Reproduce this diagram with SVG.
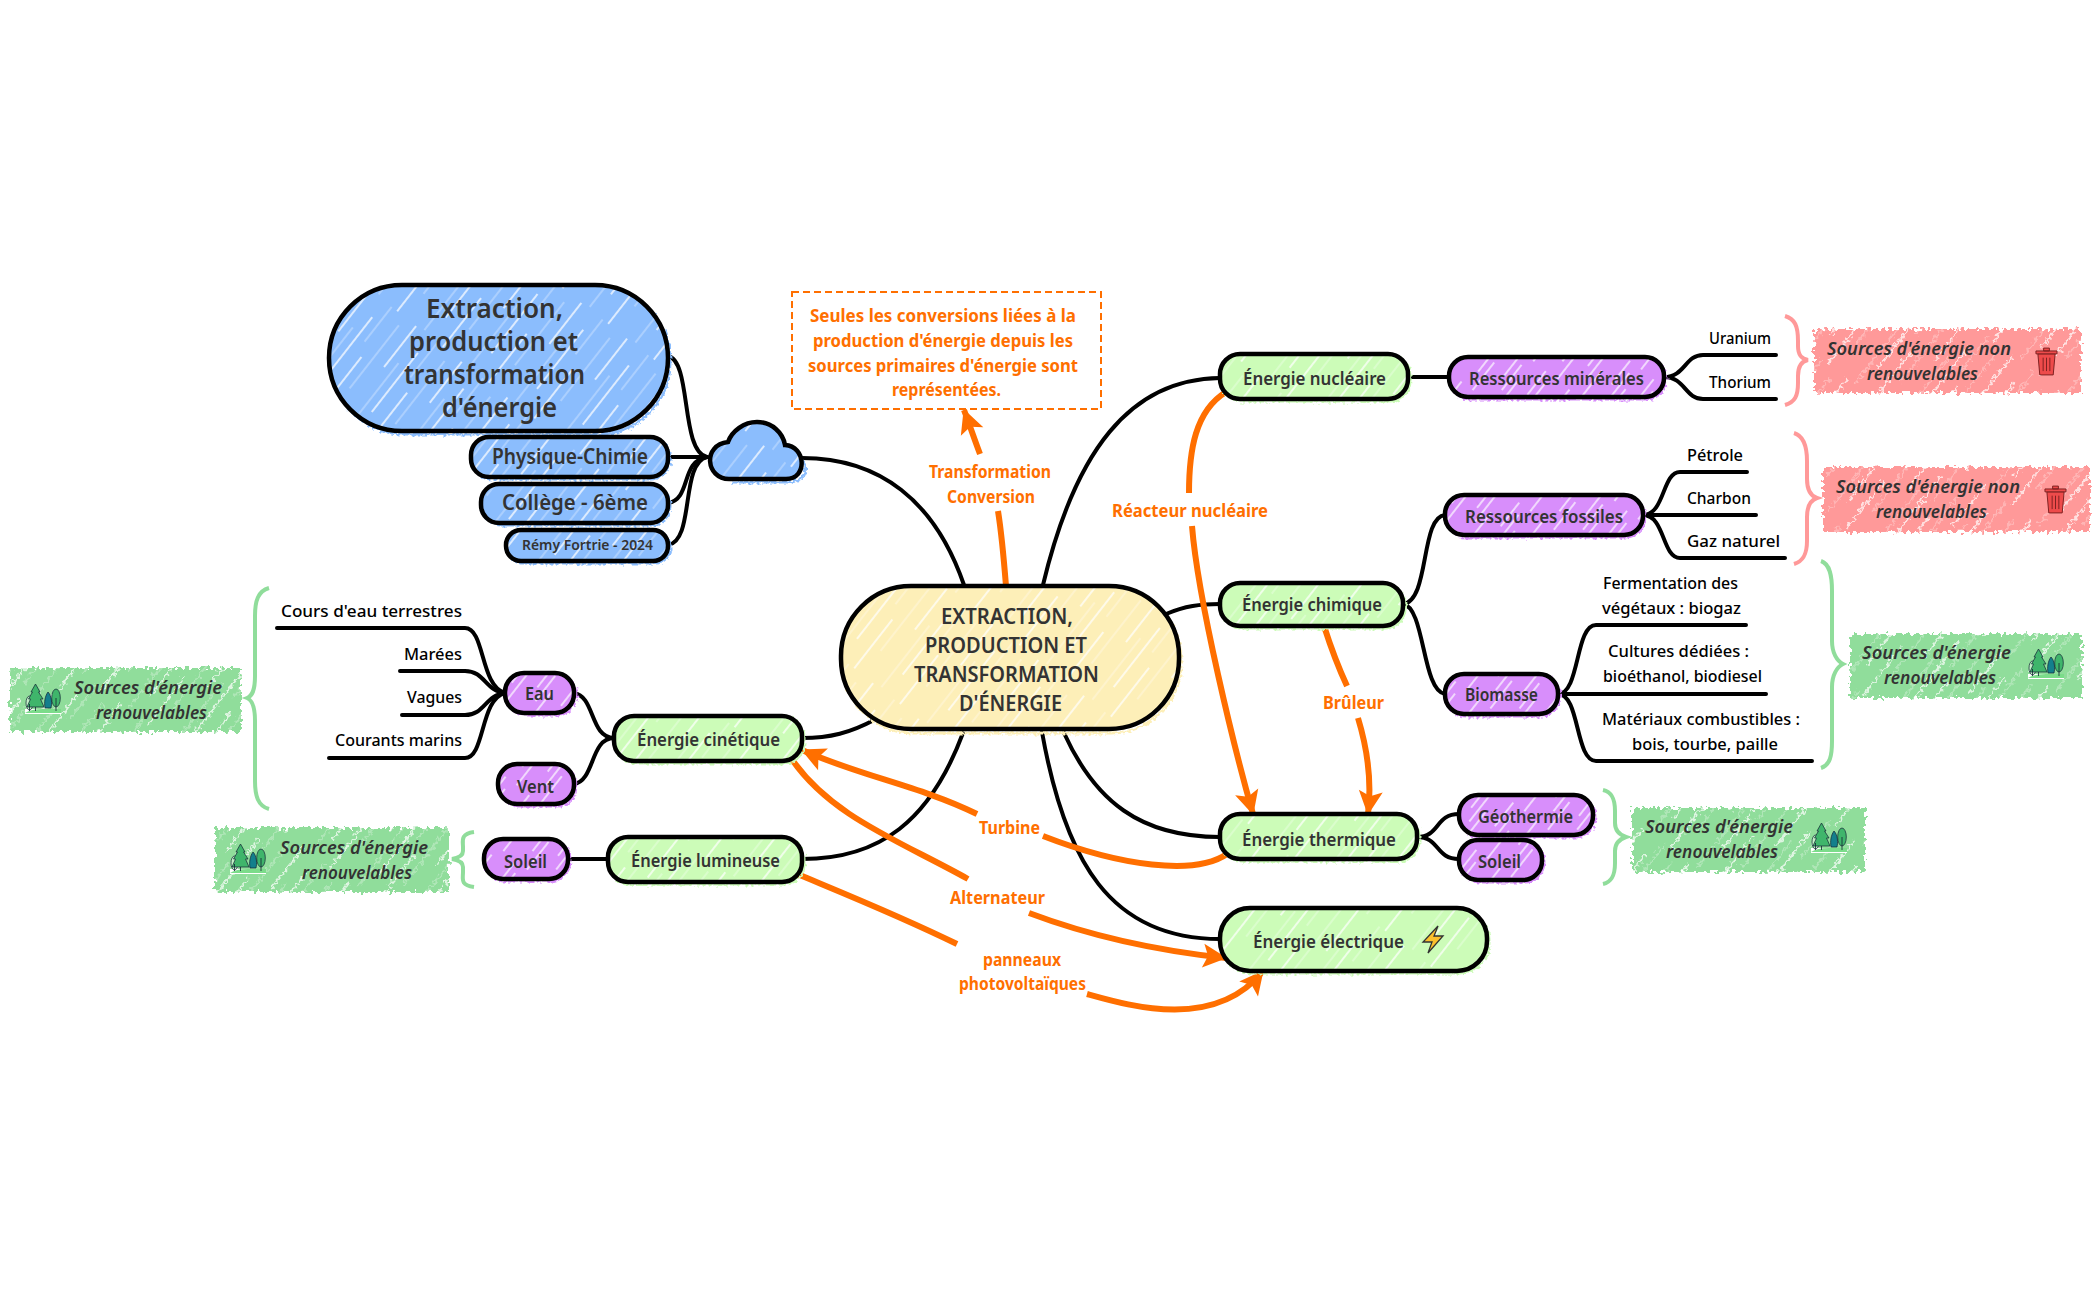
<svg xmlns="http://www.w3.org/2000/svg" width="2098" height="1300" viewBox="0 0 2098 1300">
<style>
text{font-family:"Noto Sans","Open Sans",sans-serif;fill:#333;font-weight:600}
.c{fill:none;stroke:#000;stroke-width:4;stroke-linecap:round}
.o{fill:none;stroke:#ff6f00;stroke-width:6}
.oa{marker-end:url(#ah)}
.n{stroke:#000;stroke-width:4.500}
.j{fill:none;stroke-width:3;filter:url(#rough)}
.tag{filter:url(#rough2)}
.s18{font-size:18px}.s22{font-size:21px}
.leaf{font-size:17px;fill:#000;font-weight:500}
.lab{font-size:17px;fill:#ff6f00;font-weight:700}
.it{font-size:17px;font-style:italic}
.gb{fill:none;stroke:#90dd9b;stroke-width:4}.rb{fill:none;stroke:#ff9999;stroke-width:4}
</style>
<defs>
<filter id="rough" x="-10%" y="-20%" width="120%" height="140%"><feTurbulence type="fractalNoise" baseFrequency=".35" numOctaves="1" seed="3"/><feDisplacementMap in="SourceGraphic" scale="7" xChannelSelector="R" yChannelSelector="G"/></filter>
<filter id="rough2" x="-5%" y="-20%" width="110%" height="140%"><feTurbulence type="fractalNoise" baseFrequency=".28" numOctaves="1" seed="7"/><feDisplacementMap in="SourceGraphic" scale="11" xChannelSelector="R" yChannelSelector="G"/></filter>
<g id="hl" stroke="#fff" fill="none"><path stroke-width="1.400" d="M6 0V52M24 20V95M40 58V120"/><path stroke-width=".7" stroke-opacity=".8" d="M15 40V118M33 0V44M50 10V90"/></g>
<pattern id="hb" width="58" height="120" patternUnits="userSpaceOnUse" patternTransform="rotate(38)"><rect width="58" height="120" fill="#8bbdfd"/><use href="#hl"/></pattern>
<pattern id="hy" width="58" height="120" patternUnits="userSpaceOnUse" patternTransform="rotate(38)"><rect width="58" height="120" fill="#fdefb8"/><use href="#hl"/></pattern>
<pattern id="hg" width="58" height="120" patternUnits="userSpaceOnUse" patternTransform="rotate(38)"><rect width="58" height="120" fill="#ccfcb8"/><use href="#hl"/></pattern>
<pattern id="hp" width="30" height="60" patternUnits="userSpaceOnUse" patternTransform="rotate(38)"><rect width="30" height="60" fill="#d88efb"/><path stroke="#fff" stroke-width="1.300" d="M6 0V30M20 25V60M13 10V42"/></pattern>
<pattern id="hn" width="58" height="120" patternUnits="userSpaceOnUse" patternTransform="rotate(38)"><rect width="58" height="120" fill="#90dd9b"/><use href="#hl"/></pattern>
<pattern id="hr" width="58" height="120" patternUnits="userSpaceOnUse" patternTransform="rotate(38)"><rect width="58" height="120" fill="#ff9999"/><use href="#hl"/></pattern>
<marker id="ah" markerUnits="userSpaceOnUse" markerWidth="28" markerHeight="28" refX="23" refY="12" orient="auto" overflow="visible"><path d="M0 0L24 12L0 24L5 12z" fill="#ff6f00"/></marker>
<symbol id="tree" viewBox="0 0 36 30">
<rect x="0" y="25" width="36" height="5" fill="#fff"/>
<path d="M0 29Q6 25 18 25T36 25V29z" fill="#7bdc8a"/>
<ellipse cx="4.500" cy="19" rx="3.500" ry="7" fill="#c4f0c8" stroke="#123" stroke-width=".7"/>
<path d="M10.500 0L15 8H13.500L18 15H15.500L19 23H2L5.500 15H3.500L7.500 8H6z" fill="#3fb56b" stroke="#123" stroke-width=".7"/>
<path d="M23 8C27 12 27 20 26 24H20C19 18 20 12 23 8z" fill="#137f8c" stroke="#123" stroke-width=".7"/>
<ellipse cx="31" cy="14" rx="4.300" ry="9" fill="#3fb56b" stroke="#123" stroke-width=".7"/>
<path d="M31 14V27M4.500 20V27M10.500 23V27" stroke="#123" stroke-width=".8"/>
</symbol>
<symbol id="trash" viewBox="0 0 24 30">
<path d="M3 7H21L19 29H5z" fill="#ee4b4b" stroke="#7a1f1f" stroke-width="1"/>
<path d="M1 4H23V7H1zM9 1H15V4H9z" fill="#ee4b4b" stroke="#7a1f1f" stroke-width="1"/>
<path d="M8.500 11V25M12 11V25M15.500 11V25" stroke="#7a1f1f" stroke-width="1"/>
</symbol>
</defs>
<g transform="translate(0,1)">
<g id="connectors">
<path class="c" d="M668 355C692 360 680 450 707 456"/>
<path class="c" d="M668 456H707"/>
<path class="c" d="M668 502C692 498 680 460 707 456"/>
<path class="c" d="M668 544C695 540 680 462 707 456"/>
<path class="c" d="M802 457C880 457 935 500 964 584"/>
<path class="c" d="M1220 377C1130 378 1075 450 1043 584"/>
<path class="c" d="M1166 613C1185 605 1200 603 1220 603"/>
<path class="c" d="M1064 732C1095 800 1140 836 1220 836"/>
<path class="c" d="M1042 731C1065 860 1110 938 1220 938"/>
<path class="c" d="M963 732C930 820 880 858 802 858"/>
<path class="c" d="M876 718C850 732 830 737 802 737"/>
<path class="c" d="M1408 376H1449"/>
<path class="c" d="M1664 376C1685 376 1685 354 1703 354H1776"/>
<path class="c" d="M1664 376C1685 376 1685 398 1703 398H1776"/>
<path class="c" d="M1403 603C1430 600 1420 516 1445 514"/>
<path class="c" d="M1403 603C1425 606 1422 690 1445 693"/>
<path class="c" d="M1643 514C1665 514 1662 471 1680 471H1747"/>
<path class="c" d="M1643 514H1756"/>
<path class="c" d="M1643 514C1665 514 1662 557 1680 557H1785"/>
<path class="c" d="M1558 693C1580 693 1575 624 1596 624H1746"/>
<path class="c" d="M1558 693H1766"/>
<path class="c" d="M1558 693C1580 693 1575 760 1596 760H1812"/>
<path class="c" d="M1417 836C1440 836 1435 813 1459 813"/>
<path class="c" d="M1417 836C1440 836 1435 858 1459 858"/>
<path class="c" d="M505 692C480 685 485 627 465 627H277"/>
<path class="c" d="M505 692C485 690 485 670 465 670H400"/>
<path class="c" d="M505 692C485 694 485 714 465 714H402"/>
<path class="c" d="M505 692C480 698 485 757 465 757H329"/>
<path class="c" d="M574 692C595 695 590 737 614 737"/>
<path class="c" d="M574 783C595 780 590 737 614 737"/>
<path class="c" d="M568 858H608"/>
<path class="o oa" d="M980 453C975 440 970 425 964 409"/>
<path class="o" d="M998 510C1002 535 1004 560 1006 585"/>
<path class="o" d="M1226 391C1195 410 1189 450 1189 492"/>
<path class="o oa" d="M1192 525C1198 600 1235 750 1253 813"/>
<path class="o" d="M1324 625C1332 650 1340 670 1347 685"/>
<path class="o oa" d="M1358 717C1368 750 1372 780 1368 813"/>
<path class="o" d="M1227 853C1195 875 1120 865 1043 835"/>
<path class="o oa" d="M977 813C920 785 860 775 802 749"/>
<path class="o" d="M791 757C830 815 900 840 968 878"/>
<path class="o oa" d="M1029 912C1090 935 1160 950 1226 957"/>
<path class="o" d="M795 872C850 895 900 915 957 943"/>
<path class="o oa" d="M1087 993C1130 1005 1215 1030 1263 970"/>
</g>

<g id="titre">
<rect class="j" stroke="#8bbdfd" x="332" y="288" width="338" height="145" rx="72"/>
<rect class="n" fill="url(#hb)" x="329" y="284" width="339" height="146" rx="73"/>
<text x="426" y="317" textLength="137" lengthAdjust="spacingAndGlyphs" font-size="27">Extraction,</text>
<text x="409" y="350" textLength="169" lengthAdjust="spacingAndGlyphs" font-size="27">production et</text>
<text x="404" y="383" textLength="181" lengthAdjust="spacingAndGlyphs" font-size="27">transformation</text>
<text x="442" y="416" textLength="115" lengthAdjust="spacingAndGlyphs" font-size="27">d'énergie</text>
</g>
<g id="physique">
<rect class="j" stroke="#8bbdfd" x="473" y="438" width="197" height="40" rx="20"/>
<rect class="n" fill="url(#hb)" x="471" y="436" width="197" height="40" rx="18"/>
<text class="s22" x="492" y="463" textLength="156" lengthAdjust="spacingAndGlyphs">Physique-Chimie</text>
</g>
<g id="college">
<rect class="j" stroke="#8bbdfd" x="483" y="485" width="187" height="39" rx="19"/>
<rect class="n" fill="url(#hb)" x="481" y="483" width="187" height="39" rx="18"/>
<text class="s22" x="502" y="509" textLength="146" lengthAdjust="spacingAndGlyphs">Collège - 6ème</text>
</g>
<g id="auteur">
<rect class="j" stroke="#8bbdfd" x="508" y="531" width="162" height="31" rx="15"/>
<rect class="n" fill="url(#hb)" x="506" y="529" width="162" height="31" rx="15"/>
<text x="522" y="549" textLength="131" lengthAdjust="spacingAndGlyphs" font-size="14">Rémy Fortrie - 2024</text>
</g>
<g id="nuage">
<path class="j" stroke="#8bbdfd" d="M732 481H788C810 481 812 458 791 456"/>
<path class="n" fill="url(#hb)" d="M729 478C706 478 702 444 728 441C732 430 744 421 757 421C772 421 783 432 785 444C806 445 808 478 786 478z"/>
</g>

<g id="note">
<rect x="792" y="291" width="309" height="117" fill="none" stroke="#ff6f00" stroke-width="2" stroke-dasharray="7 4"/>
<text class="lab" x="810" y="321" textLength="266" lengthAdjust="spacingAndGlyphs">Seules les conversions liées à la</text>
<text class="lab" x="813" y="346" textLength="260" lengthAdjust="spacingAndGlyphs">production d'énergie depuis les</text>
<text class="lab" x="808" y="371" textLength="270" lengthAdjust="spacingAndGlyphs">sources primaires d'énergie sont</text>
<text class="lab" x="892" y="395" textLength="109" lengthAdjust="spacingAndGlyphs">représentées.</text>
</g>

<g id="centre">
<rect class="j" stroke="#fdefb8" x="843" y="589" width="338" height="143" rx="70"/>
<rect class="n" fill="url(#hy)" x="841" y="585" width="338" height="143" rx="70"/>
<text x="941" y="623" textLength="132" lengthAdjust="spacingAndGlyphs" font-size="21">EXTRACTION,</text>
<text x="925" y="652" textLength="162" lengthAdjust="spacingAndGlyphs" font-size="21">PRODUCTION ET</text>
<text x="914" y="681" textLength="185" lengthAdjust="spacingAndGlyphs" font-size="21">TRANSFORMATION</text>
<text x="959" y="710" textLength="103" lengthAdjust="spacingAndGlyphs" font-size="21">D'ÉNERGIE</text>
</g>

<g id="nucleaire">
<rect class="j" stroke="#ccfcb8" x="1222" y="355" width="188" height="45" rx="20"/>
<rect class="n" fill="url(#hg)" x="1220" y="353" width="188" height="45" rx="20"/>
<text class="s18" x="1243" y="384" textLength="143" lengthAdjust="spacingAndGlyphs">Énergie nucléaire</text>
</g>
<g id="chimique">
<rect class="j" stroke="#ccfcb8" x="1222" y="584" width="183" height="43" rx="20"/>
<rect class="n" fill="url(#hg)" x="1220" y="582" width="183" height="43" rx="20"/>
<text class="s18" x="1242" y="610" textLength="140" lengthAdjust="spacingAndGlyphs">Énergie chimique</text>
</g>
<g id="thermique">
<rect class="j" stroke="#ccfcb8" x="1222" y="815" width="197" height="45" rx="20"/>
<rect class="n" fill="url(#hg)" x="1220" y="813" width="197" height="45" rx="20"/>
<text class="s18" x="1242" y="845" textLength="154" lengthAdjust="spacingAndGlyphs">Énergie thermique</text>
</g>
<g id="electrique">
<rect class="j" stroke="#ccfcb8" x="1222" y="909" width="267" height="63" rx="30"/>
<rect class="n" fill="url(#hg)" x="1220" y="907" width="267" height="63" rx="30"/>
<text class="s18" x="1253" y="947" textLength="151" lengthAdjust="spacingAndGlyphs">Énergie électrique</text>
<path d="M1438 925L1423 941H1432L1428 952L1443 935H1434z" fill="#fbc02d" stroke="#333" stroke-width="1.300"/>
</g>
<g id="cinetique">
<rect class="j" stroke="#ccfcb8" x="616" y="717" width="188" height="45" rx="20"/>
<rect class="n" fill="url(#hg)" x="614" y="715" width="188" height="45" rx="20"/>
<text class="s18" x="637" y="745" textLength="143" lengthAdjust="spacingAndGlyphs">Énergie cinétique</text>
</g>
<g id="lumineuse">
<rect class="j" stroke="#ccfcb8" x="610" y="838" width="194" height="45" rx="20"/>
<rect class="n" fill="url(#hg)" x="608" y="836" width="194" height="45" rx="20"/>
<text class="s18" x="631" y="866" textLength="149" lengthAdjust="spacingAndGlyphs">Énergie lumineuse</text>
</g>

<g id="minerales">
<rect class="j" stroke="#d88efb" x="1451" y="358" width="215" height="40" rx="20"/>
<rect class="n" fill="url(#hp)" x="1449" y="356" width="215" height="40" rx="19"/>
<text class="s18" x="1469" y="384" textLength="175" lengthAdjust="spacingAndGlyphs">Ressources minérales</text>
</g>
<g id="fossiles">
<rect class="j" stroke="#d88efb" x="1447" y="496" width="198" height="40" rx="20"/>
<rect class="n" fill="url(#hp)" x="1445" y="494" width="198" height="40" rx="19"/>
<text class="s18" x="1465" y="522" textLength="158" lengthAdjust="spacingAndGlyphs">Ressources fossiles</text>
</g>
<g id="biomasse">
<rect class="j" stroke="#d88efb" x="1447" y="675" width="113" height="40" rx="20"/>
<rect class="n" fill="url(#hp)" x="1445" y="673" width="113" height="40" rx="19"/>
<text class="s18" x="1465" y="700" textLength="73" lengthAdjust="spacingAndGlyphs">Biomasse</text>
</g>
<g id="geothermie">
<rect class="j" stroke="#d88efb" x="1461" y="796" width="134" height="40" rx="20"/>
<rect class="n" fill="url(#hp)" x="1459" y="794" width="134" height="40" rx="19"/>
<text class="s18" x="1478" y="822" textLength="95" lengthAdjust="spacingAndGlyphs">Géothermie</text>
</g>
<g id="soleil-droite">
<rect class="j" stroke="#d88efb" x="1461" y="841" width="83" height="40" rx="20"/>
<rect class="n" fill="url(#hp)" x="1459" y="839" width="83" height="40" rx="19"/>
<text class="s18" x="1478" y="867" textLength="43" lengthAdjust="spacingAndGlyphs">Soleil</text>
</g>
<g id="eau">
<rect class="j" stroke="#d88efb" x="507" y="674" width="69" height="40" rx="20"/>
<rect class="n" fill="url(#hp)" x="505" y="672" width="69" height="40" rx="19"/>
<text class="s18" x="525" y="699" textLength="29" lengthAdjust="spacingAndGlyphs">Eau</text>
</g>
<g id="vent">
<rect class="j" stroke="#d88efb" x="500" y="765" width="76" height="40" rx="20"/>
<rect class="n" fill="url(#hp)" x="498" y="763" width="76" height="40" rx="19"/>
<text class="s18" x="517" y="792" textLength="37" lengthAdjust="spacingAndGlyphs">Vent</text>
</g>
<g id="soleil-gauche">
<rect class="j" stroke="#d88efb" x="486" y="840" width="84" height="40" rx="20"/>
<rect class="n" fill="url(#hp)" x="484" y="838" width="84" height="40" rx="19"/>
<text class="s18" x="504" y="867" textLength="43" lengthAdjust="spacingAndGlyphs">Soleil</text>
</g>

<g id="feuilles">
<text class="leaf" x="1709" y="343" textLength="62" lengthAdjust="spacingAndGlyphs">Uranium</text>
<text class="leaf" x="1709" y="387" textLength="62" lengthAdjust="spacingAndGlyphs">Thorium</text>
<text class="leaf" x="1687" y="460" textLength="56" lengthAdjust="spacingAndGlyphs">Pétrole</text>
<text class="leaf" x="1687" y="503" textLength="64" lengthAdjust="spacingAndGlyphs">Charbon</text>
<text class="leaf" x="1687" y="546" textLength="93" lengthAdjust="spacingAndGlyphs">Gaz naturel</text>
<text class="leaf" x="1603" y="588" textLength="135" lengthAdjust="spacingAndGlyphs">Fermentation des</text>
<text class="leaf" x="1602" y="613" textLength="139" lengthAdjust="spacingAndGlyphs">végétaux : biogaz</text>
<text class="leaf" x="1608" y="656" textLength="141" lengthAdjust="spacingAndGlyphs">Cultures dédiées :</text>
<text class="leaf" x="1603" y="681" textLength="159" lengthAdjust="spacingAndGlyphs">bioéthanol, biodiesel</text>
<text class="leaf" x="1602" y="724" textLength="198" lengthAdjust="spacingAndGlyphs">Matériaux combustibles :</text>
<text class="leaf" x="1632" y="749" textLength="146" lengthAdjust="spacingAndGlyphs">bois, tourbe, paille</text>
<text class="leaf" x="281" y="616" textLength="181" lengthAdjust="spacingAndGlyphs">Cours d'eau terrestres</text>
<text class="leaf" x="404" y="659" textLength="58" lengthAdjust="spacingAndGlyphs">Marées</text>
<text class="leaf" x="407" y="702" textLength="55" lengthAdjust="spacingAndGlyphs">Vagues</text>
<text class="leaf" x="335" y="745" textLength="127" lengthAdjust="spacingAndGlyphs">Courants marins</text>
</g>

<g id="etiquettes-liens">
<text class="lab" x="929" y="477" textLength="122" lengthAdjust="spacingAndGlyphs">Transformation</text>
<text class="lab" x="947" y="502" textLength="88" lengthAdjust="spacingAndGlyphs">Conversion</text>
<text class="lab" x="1112" y="516" textLength="156" lengthAdjust="spacingAndGlyphs">Réacteur nucléaire</text>
<text class="lab" x="1323" y="708" textLength="61" lengthAdjust="spacingAndGlyphs">Brûleur</text>
<text class="lab" x="979" y="833" textLength="61" lengthAdjust="spacingAndGlyphs">Turbine</text>
<text class="lab" x="950" y="903" textLength="95" lengthAdjust="spacingAndGlyphs">Alternateur</text>
<text class="lab" x="983" y="965" textLength="78" lengthAdjust="spacingAndGlyphs">panneaux</text>
<text class="lab" x="959" y="989" textLength="127" lengthAdjust="spacingAndGlyphs">photovoltaïques</text>
</g>

<g id="accolades">
<path class="gb" d="M269 587C258 590 255 600 255 615V675C255 690 252 695 247 697C252 699 255 705 255 720V780C255 795 258 805 269 808"/>
<path class="gb" d="M474 831C460 833 463 840 463 846V850C463 855 458 857 452 858C458 859 463 861 463 866V871C463 878 460 884 474 886"/>
<path class="rb" d="M1785 315C1795 318 1798 325 1798 340V345C1798 355 1802 358 1808 359C1802 360 1798 365 1798 375V382C1798 395 1795 401 1785 404"/>
<path class="rb" d="M1794 432C1804 435 1807 445 1807 460V478C1807 490 1811 495 1817 497C1811 499 1807 504 1807 516V540C1807 552 1804 560 1794 563"/>
<path class="gb" d="M1821 560C1830 563 1832 575 1832 590V640C1832 652 1837 660 1843 663C1837 666 1832 674 1832 686V740C1832 755 1830 764 1821 767"/>
<path class="gb" d="M1603 789C1612 791 1615 798 1615 810V822C1615 830 1620 834 1626 836C1620 838 1615 842 1615 850V862C1615 874 1612 881 1603 883"/>
</g>

<g id="tag-vert-1">
<rect class="tag" fill="url(#hn)" x="10" y="667" width="231" height="64"/>
<use href="#tree" x="25" y="683" width="36" height="30"/>
<text class="it" x="74" y="693" textLength="148" lengthAdjust="spacingAndGlyphs">Sources d'énergie</text>
<text class="it" x="96" y="718" textLength="111" lengthAdjust="spacingAndGlyphs">renouvelables</text>
</g>
<g id="tag-vert-2">
<rect class="tag" fill="url(#hn)" x="215" y="827" width="234" height="64"/>
<use href="#tree" x="230" y="843" width="36" height="30"/>
<text class="it" x="280" y="853" textLength="148" lengthAdjust="spacingAndGlyphs">Sources d'énergie</text>
<text class="it" x="302" y="878" textLength="110" lengthAdjust="spacingAndGlyphs">renouvelables</text>
</g>
<g id="tag-vert-3">
<rect class="tag" fill="url(#hn)" x="1850" y="633" width="232" height="64"/>
<use href="#tree" x="2028" y="648" width="36" height="30"/>
<text class="it" x="1862" y="658" textLength="149" lengthAdjust="spacingAndGlyphs">Sources d'énergie</text>
<text class="it" x="1884" y="683" textLength="112" lengthAdjust="spacingAndGlyphs">renouvelables</text>
</g>
<g id="tag-vert-4">
<rect class="tag" fill="url(#hn)" x="1632" y="807" width="233" height="64"/>
<use href="#tree" x="1811" y="822" width="36" height="30"/>
<text class="it" x="1645" y="832" textLength="148" lengthAdjust="spacingAndGlyphs">Sources d'énergie</text>
<text class="it" x="1666" y="857" textLength="112" lengthAdjust="spacingAndGlyphs">renouvelables</text>
</g>
<g id="tag-rouge-1">
<rect class="tag" fill="url(#hr)" x="1814" y="328" width="267" height="64"/>
<use href="#trash" x="2035" y="346" width="23" height="29"/>
<text class="it" x="1827" y="354" textLength="184" lengthAdjust="spacingAndGlyphs">Sources d'énergie non</text>
<text class="it" x="1867" y="379" textLength="111" lengthAdjust="spacingAndGlyphs">renouvelables</text>
</g>
<g id="tag-rouge-2">
<rect class="tag" fill="url(#hr)" x="1823" y="466" width="267" height="65"/>
<use href="#trash" x="2044" y="484" width="23" height="29"/>
<text class="it" x="1836" y="492" textLength="184" lengthAdjust="spacingAndGlyphs">Sources d'énergie non</text>
<text class="it" x="1876" y="517" textLength="111" lengthAdjust="spacingAndGlyphs">renouvelables</text>
</g>
</g>
</svg>
